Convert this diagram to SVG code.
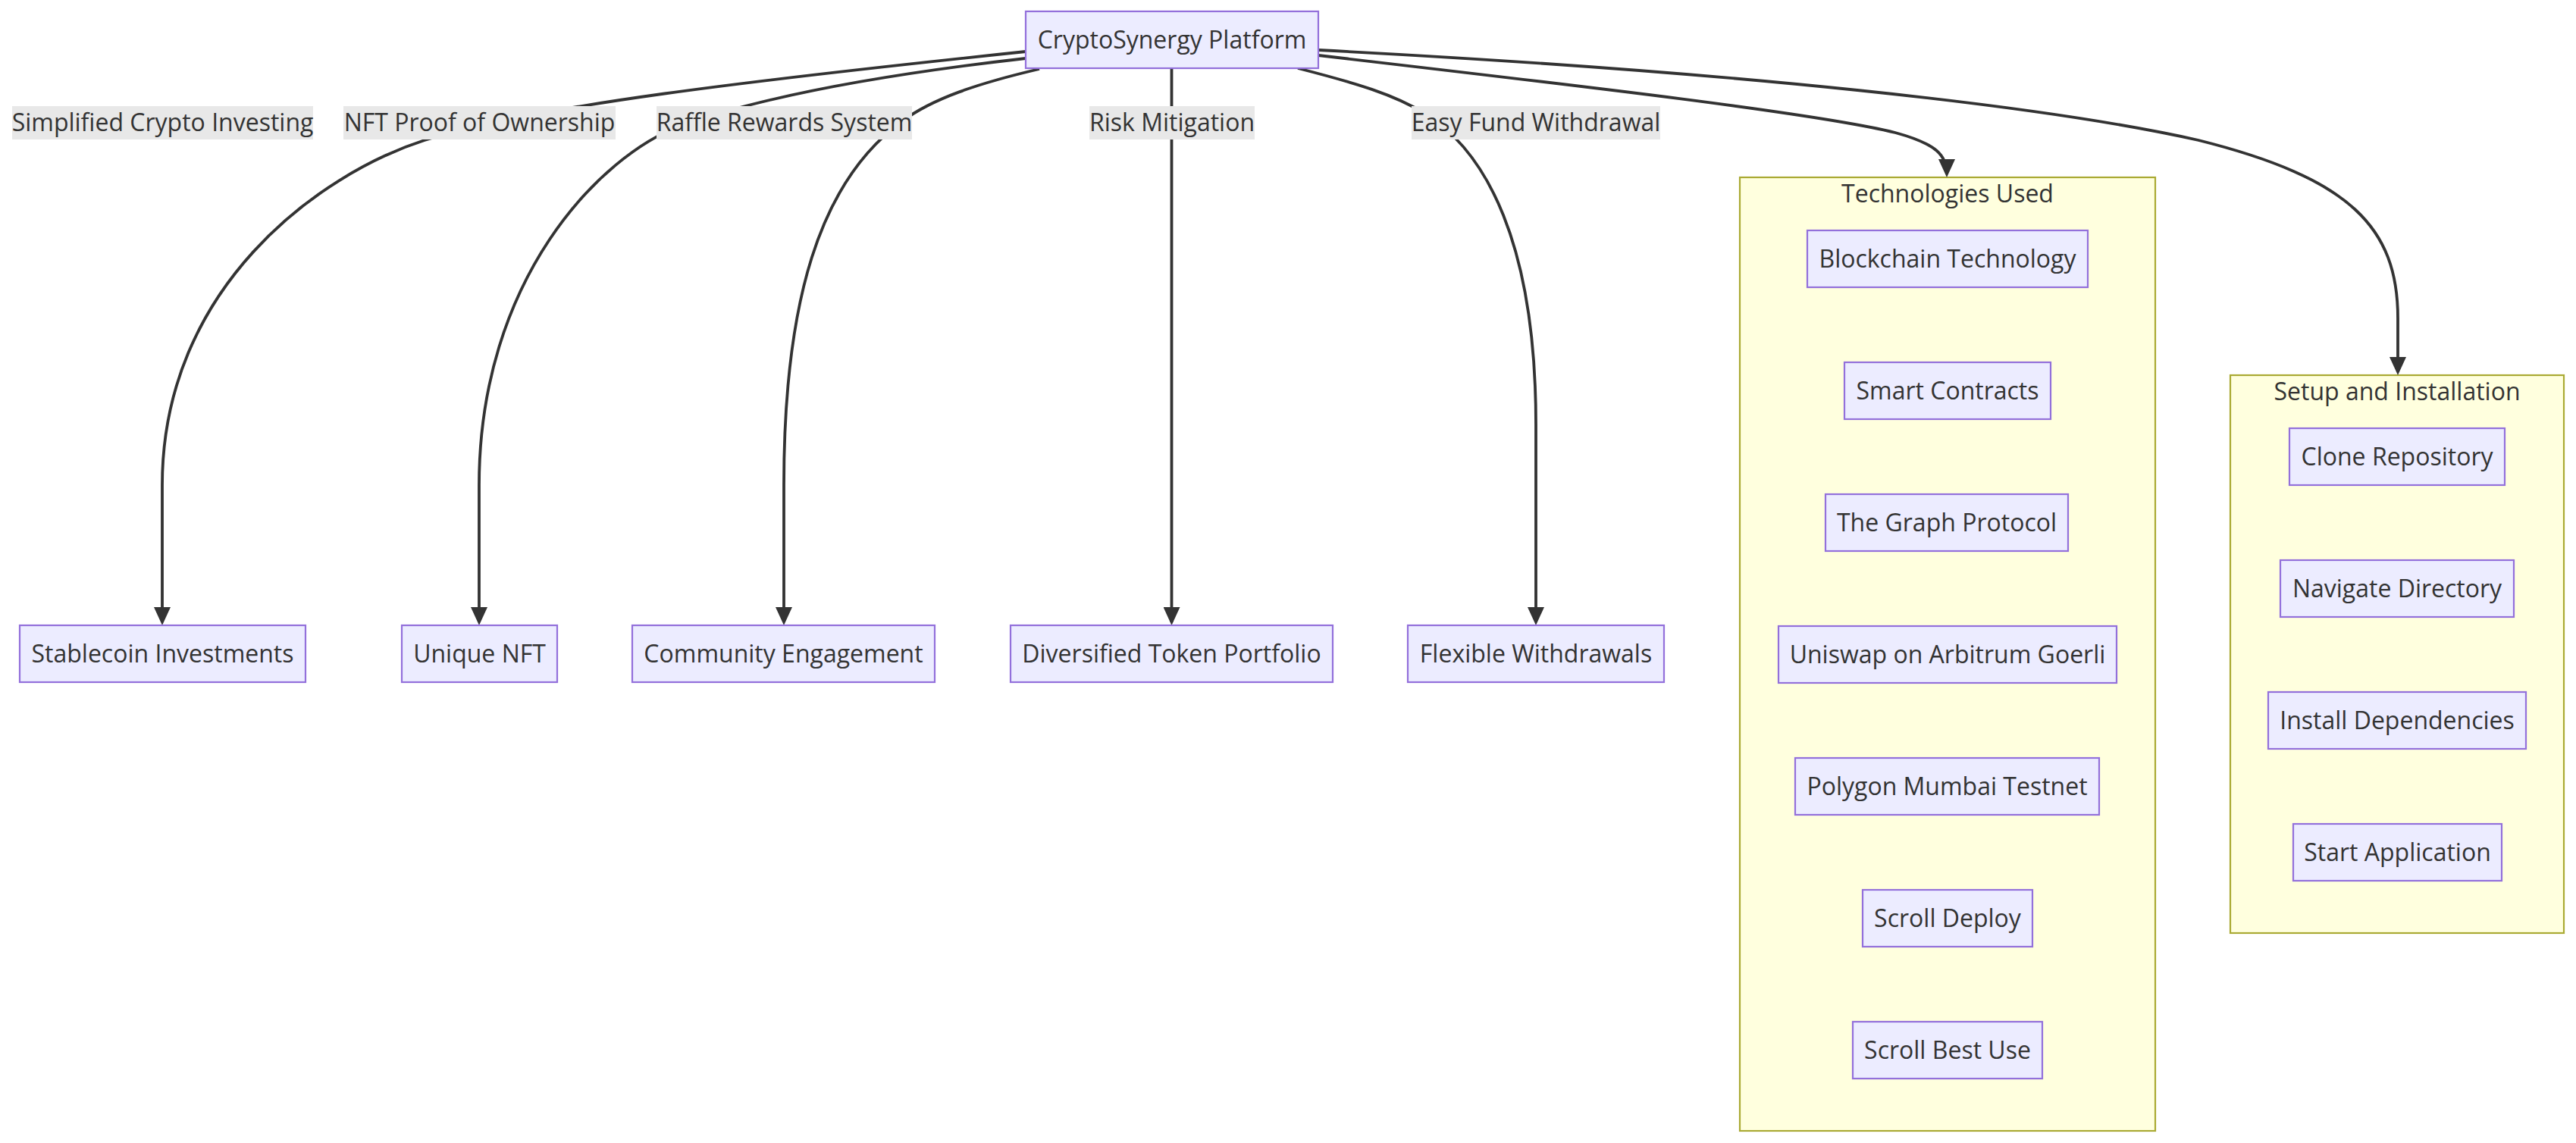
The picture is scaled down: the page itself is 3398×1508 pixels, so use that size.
<svg xmlns="http://www.w3.org/2000/svg" width="3398" height="1508" viewBox="0 0 3398 1508">
  <defs>
    <marker id="arrow" markerUnits="userSpaceOnUse" markerWidth="24" markerHeight="22" refX="20" refY="11" orient="auto">
      <path d="M0,0 L24,11 L0,22 z" fill="#333333"/>
    </marker>
    <style>
      .node rect { fill: #ECECFF; stroke: #9370DB; stroke-width: 2.2; }
      .cluster rect { fill: #FFFFDE; stroke: #AAAA33; stroke-width: 2.2; }
      text { font-family: "Open Sans", "Noto Sans", sans-serif; font-size: 32px; fill: #333333; text-anchor: middle; }
      .edge { fill: none; stroke: #333333; stroke-width: 3.8; marker-end: url(#arrow); }
      .elabel rect { fill: #E8E8E8; }
    </style>
  </defs>
  <rect width="3398" height="1508" fill="#FFFFFF"/>

  <!-- subgraph containers -->
  <g id="cluster-tech" class="cluster">
    <rect x="2295" y="234" width="548" height="1258"/>
    <text x="2569" y="267">Technologies Used</text>
  </g>
  <g id="cluster-setup" class="cluster">
    <rect x="2942" y="495" width="440" height="736"/>
    <text x="3162" y="528">Setup and Installation</text>
  </g>

  <!-- connectors -->
  <g id="edges">
    <path class="edge" d="M1353,68 C1000,105 700,140 560,185 C420,230 214,380 214,640 L214,821"/>
    <path class="edge" d="M1353,77 C1150,100 1000,130 900,165 C790,205 632,370 632,640 L632,821"/>
    <path class="edge" d="M1371,91 C1290,110 1230,130 1190,160 C1080,240 1034,400 1034,640 L1034,821"/>
    <path class="edge" d="M1545.5,90 L1545.5,821"/>
    <path class="edge" d="M1712,90 C1790,110 1840,125 1880,150 C1960,200 2026,320 2026,560 L2026,821"/>
    <path class="edge" d="M1739,73 C2100,115 2400,150 2500,175 C2555,190 2568,205 2568,230"/>
    <path class="edge" d="M1739,66 C2300,95 2700,140 2900,185 C3100,235 3163,300 3163,420 L3163,491"/>
  </g>

  <!-- connector labels -->
  <g id="edge-labels">
    <g class="elabel"><rect x="16" y="140" width="397" height="44"/><text x="214.5" y="173">Simplified Crypto Investing</text></g>
    <g class="elabel"><rect x="453" y="140" width="359" height="44"/><text x="632.5" y="173">NFT Proof of Ownership</text></g>
    <g class="elabel"><rect x="866" y="140" width="337" height="44"/><text x="1034.5" y="173">Raffle Rewards System</text></g>
    <g class="elabel"><rect x="1437" y="140" width="218" height="44"/><text x="1546" y="173">Risk Mitigation</text></g>
    <g class="elabel"><rect x="1862" y="140" width="328" height="44"/><text x="2026" y="173">Easy Fund Withdrawal</text></g>
  </g>

  <!-- nodes -->
  <g id="platform" class="node"><rect x="1353" y="15" width="386" height="75"/><text x="1546" y="64">CryptoSynergy Platform</text></g>
  <g id="stablecoin" class="node"><rect x="26" y="825" width="377" height="75"/><text x="214.5" y="874">Stablecoin Investments</text></g>
  <g id="unique-nft" class="node"><rect x="530" y="825" width="205" height="75"/><text x="632.5" y="874">Unique NFT</text></g>
  <g id="community" class="node"><rect x="834" y="825" width="399" height="75"/><text x="1033.5" y="874">Community Engagement</text></g>
  <g id="portfolio" class="node"><rect x="1333" y="825" width="425" height="75"/><text x="1545.5" y="874">Diversified Token Portfolio</text></g>
  <g id="withdrawals" class="node"><rect x="1857" y="825" width="338" height="75"/><text x="2026" y="874">Flexible Withdrawals</text></g>

  <g id="blockchain" class="node"><rect x="2384" y="304" width="370" height="75"/><text x="2569" y="353">Blockchain Technology</text></g>
  <g id="smart-contracts" class="node"><rect x="2433" y="478" width="272" height="75"/><text x="2569" y="527">Smart Contracts</text></g>
  <g id="graph-protocol" class="node"><rect x="2408" y="652" width="320" height="75"/><text x="2568" y="701">The Graph Protocol</text></g>
  <g id="uniswap" class="node"><rect x="2346" y="826" width="446" height="75"/><text x="2569" y="875">Uniswap on Arbitrum Goerli</text></g>
  <g id="polygon" class="node"><rect x="2368" y="1000" width="401" height="75"/><text x="2568.5" y="1049">Polygon Mumbai Testnet</text></g>
  <g id="scroll-deploy" class="node"><rect x="2457" y="1174" width="224" height="75"/><text x="2569" y="1223">Scroll Deploy</text></g>
  <g id="scroll-best-use" class="node"><rect x="2444" y="1348" width="250" height="75"/><text x="2569" y="1397">Scroll Best Use</text></g>

  <g id="clone" class="node"><rect x="3020" y="565" width="284" height="75"/><text x="3162" y="614">Clone Repository</text></g>
  <g id="navigate" class="node"><rect x="3008" y="739" width="308" height="75"/><text x="3162" y="788">Navigate Directory</text></g>
  <g id="install" class="node"><rect x="2992" y="913" width="340" height="75"/><text x="3162" y="962">Install Dependencies</text></g>
  <g id="start" class="node"><rect x="3025" y="1087" width="275" height="75"/><text x="3162.5" y="1136">Start Application</text></g>
</svg>
